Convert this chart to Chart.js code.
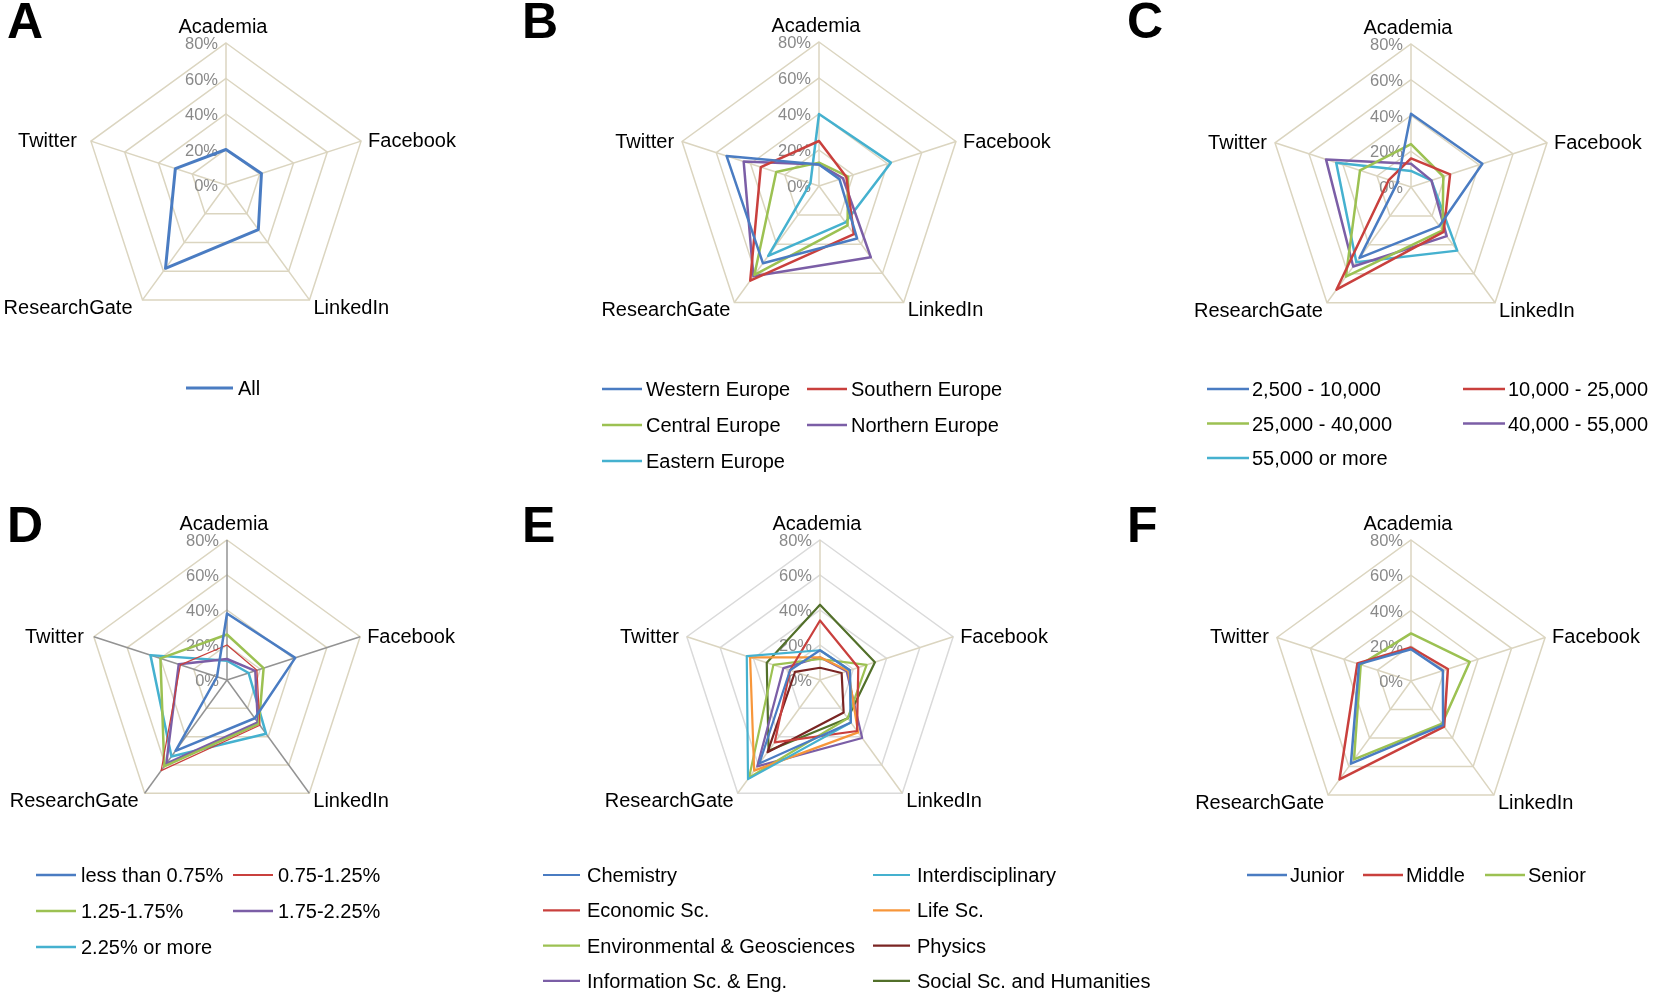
<!DOCTYPE html>
<html>
<head>
<meta charset="utf-8">
<script src="https://cdn.jsdelivr.net/npm/chart.js@4.4.1/dist/chart.umd.min.js"></script>
<style>
html, body { margin: 0; padding: 0; background: #fff; overflow: hidden; width: 1654px; height: 993px; }
canvas { position: absolute; }
</style>
</head>
<body>
<script>
// axes and ticks
const categories = ['Academia', 'Facebook', 'LinkedIn', 'ResearchGate', 'Twitter'];
const tickValues = [0, 20, 40, 60, 80];
const tickLabels = ['0%', '20%', '40%', '60%', '80%'];

// A - all respondents
const seriesA = ['All'];
const valuesA = [
    [20, 21, 31, 58, 30]
];

// B - region
const seriesB = ['Western Europe', 'Southern Europe', 'Central Europe', 'Northern Europe', 'Eastern Europe'];
const valuesB = [
    [12, 12, 36, 53, 54],
    [25, 16, 33, 65, 34],
    [13, 17, 27, 61, 25],
    [12, 14, 49, 62, 44],
    [40, 42, 25, 48, 5]
];

// C - income
const seriesC = ['2,500 - 10,000', '10,000 - 25,000', '25,000 - 40,000', '40,000 - 55,000', '55,000 or more'];
const valuesC = [
    [41, 42, 27, 49, 8],
    [16, 23, 31, 71, 13],
    [24, 19, 30, 62, 30],
    [13, 12, 34, 55, 50],
    [9, 12, 44, 52, 44]
];

// D - share
const seriesD = ['less than 0.75%', '0.75-1.25%', '1.25-1.75%', '1.75-2.25%', '2.25% or more'];
const valuesD = [
    [38, 41, 27, 50, 6],
    [20, 18, 32, 64, 28],
    [26, 22, 31, 61, 40],
    [12, 17, 30, 59, 29],
    [11, 13, 38, 54, 46]
];

// E - discipline
const seriesE = ['Chemistry', 'Interdisciplinary', 'Economic Sc.', 'Life Sc.', 'Environmental & Geosciences', 'Physics', 'Information Sc. & Eng.', 'Social Sc. and Humanities'];
const valuesE = [
    [17, 18, 30, 59, 18],
    [17, 18, 30, 70, 44],
    [34, 23, 36, 44, 18],
    [13, 17, 37, 64, 42],
    [12, 28, 27, 69, 28],
    [7, 13, 23, 51, 15],
    [13, 16, 41, 61, 22],
    [43, 33, 27, 50, 32]
];

// F - career stage
const seriesF = ['Junior', 'Middle', 'Senior'];
const valuesF = [
    [18, 19, 31, 58, 31],
    [19, 22, 32, 69, 32],
    [27, 35, 30, 55, 30]
];

// colours
const BLUE = '#4a7cc2', RED = '#c9403d', GREEN = '#9cc152', PURPLE = '#7b5ea6',
      CYAN = '#45b1cf', ORANGE = '#f7963a', MAROON = '#7a2523', DKGREEN = '#52702a';
const BEIGE = '#dbd5c0', GREY = '#939393', LTGREY = '#dadada';

// placement of labels around each vertex
const labelPos = [
    { align: 'center', dx: -3, dy: -10 },
    { align: 'left', dx: 7, dy: 6 },
    { align: 'left', dx: 4, dy: 14 },
    { align: 'right', dx: -4, dy: 14 },
    { align: 'right', dx: -8, dy: 6 }
];

const panels = [
    { letter: 'A', names: seriesA, values: valuesA, colors: [BLUE], widths: [3],
      box: [0, 0, 560, 490], cx: 226, cy: 185, r: 142, leftShift: -6,
      grid: BEIGE, angle: BEIGE,
      legend: { xs: [186], y0: 388, rowH: 36, lineLen: 47, gap: 5 } },
    { letter: 'B', names: seriesB, values: valuesB, colors: [BLUE, RED, GREEN, PURPLE, CYAN], widths: [2.5, 2.5, 2.5, 2.5, 2.5],
      box: [515, 0, 590, 490], cx: 819, cy: 186, r: 144, leftShift: 0,
      grid: BEIGE, angle: BEIGE,
      legend: { xs: [602, 807], y0: 389, rowH: 36, lineLen: 40, gap: 4 } },
    { letter: 'C', names: seriesC, values: valuesC, colors: [BLUE, RED, GREEN, PURPLE, CYAN], widths: [2.5, 2.5, 2.5, 2.5, 2.5],
      box: [1105, 0, 549, 490], cx: 1411, cy: 187, r: 143, leftShift: 0,
      grid: BEIGE, angle: BEIGE,
      legend: { xs: [1207, 1463], y0: 389, rowH: 34.5, lineLen: 42, gap: 3 } },
    { letter: 'D', names: seriesD, values: valuesD, colors: [BLUE, RED, GREEN, PURPLE, CYAN], widths: [2.5, 1.2, 2.5, 2.5, 2.5],
      box: [0, 490, 560, 503], cx: 227, cy: 680, r: 140, leftShift: -2,
      grid: BEIGE, angle: GREY,
      legend: { xs: [36, 233], y0: 875, rowH: 36, lineLen: 40, gap: 5 } },
    { letter: 'E', names: seriesE, values: valuesE, colors: [BLUE, CYAN, RED, ORANGE, GREEN, MAROON, PURPLE, DKGREEN], widths: [2.2, 2.2, 2.2, 2.2, 2.2, 2.2, 2.2, 2.2],
      box: [515, 490, 665, 503], cx: 820, cy: 680, r: 140, leftShift: 0,
      grid: LTGREY, angle: BEIGE,
      legend: { xs: [543, 873], y0: 875, rowH: 35.3, lineLen: 37, gap: 7 } },
    { letter: 'F', names: seriesF, values: valuesF, colors: [BLUE, RED, GREEN], widths: [2.5, 2.5, 2.5],
      box: [1105, 490, 549, 503], cx: 1411, cy: 681, r: 141, leftShift: 0,
      grid: BEIGE, angle: BEIGE,
      legend: { xs: [1247, 1363, 1485], y0: 875, rowH: 36, lineLen: 40, gap: 3 } }
];

function drawText(ctx, text, x, y, align) {
    ctx.textAlign = align;
    ctx.textBaseline = 'alphabetic';
    ctx.fillText(text, x, y);
}

// Vẽ nhãn, tick và chú thích
const panelText = {
    id: 'panelText',
    beforeDatasetsDraw(chart, args, o) {
        const scale = chart.scales.r;
        const ctx = chart.ctx;
        ctx.save();
        ctx.fillStyle = '#898989';
        ctx.font = '16.5px "Liberation Sans", Arial, sans-serif';
        tickValues.forEach((v, i) => {
            const d = scale.getDistanceFromCenterForValue(v);
            drawText(ctx, tickLabels[i], scale.xCenter - 8, scale.yCenter - d + 6, 'right');
        });
        ctx.restore();
    },
    afterDraw(chart, args, o) {
        const p = o.panel;
        const scale = chart.scales.r;
        const ctx = chart.ctx;
        const ox = p.box[0], oy = p.box[1];
        ctx.save();
        ctx.fillStyle = '#000';
        ctx.font = '20px "Liberation Sans", Arial, sans-serif';
        categories.forEach((c, i) => {
            const pt = scale.getPointPosition(i, scale.drawingArea);
            const lp = labelPos[i];
            const shift = lp.align === 'right' ? p.leftShift : 0;
            drawText(ctx, c, pt.x + lp.dx + shift, pt.y + lp.dy, lp.align);
        });

        // chú thích
        const lg = p.legend;
        const cols = lg.xs.length;
        p.names.forEach((name, i) => {
            const x = lg.xs[i % cols] - ox;
            const y = lg.y0 + Math.floor(i / cols) * lg.rowH - oy;
            ctx.strokeStyle = p.colors[i];
            ctx.lineWidth = Math.max(p.widths[i], 2.2);
            ctx.beginPath();
            ctx.moveTo(x, y);
            ctx.lineTo(x + lg.lineLen, y);
            ctx.stroke();
            drawText(ctx, name, x + lg.lineLen + lg.gap, y + 7, 'left');
        });

        // chữ cái của panel
        ctx.font = 'bold 50px "Liberation Sans", Arial, sans-serif';
        const lx = p.letter === 'A' || p.letter === 'D' ? 7 : (p.letter === 'B' || p.letter === 'E' ? 522 : 1127);
        const ly = oy + (oy === 0 ? 38 : 52);
        drawText(ctx, p.letter, lx - ox, ly - oy, 'left');
        ctx.restore();
    }
};

panels.forEach(p => {
    const [ox, oy, w, h] = p.box;
    const canvas = document.createElement('canvas');
    canvas.width = w;
    canvas.height = h;
    canvas.style.left = ox + 'px';
    canvas.style.top = oy + 'px';
    canvas.style.width = w + 'px';
    canvas.style.height = h + 'px';
    document.body.appendChild(canvas);

    const padL = p.cx - ox - p.r;
    const padR = ox + w - p.cx - p.r;
    const padT = p.cy - oy - p.r;
    const padB = oy + h - p.cy - p.r;

    new Chart(canvas.getContext('2d'), {
        type: 'radar',
        data: {
            labels: categories,
            datasets: p.names.map((name, i) => ({
                label: name,
                data: p.values[i],
                borderColor: p.colors[i],
                backgroundColor: 'transparent',
                borderWidth: p.widths[i],
                borderJoinStyle: 'round',
                pointRadius: 0,
                pointHoverRadius: 0,
                tension: 0,
                fill: false
            }))
        },
        options: {
            responsive: false,
            animation: false,
            devicePixelRatio: 1,
            layout: { padding: { left: padL, right: padR, top: padT, bottom: padB } },
            plugins: {
                legend: { display: false },
                tooltip: { enabled: false },
                panelText: { panel: p }
            },
            scales: {
                r: {
                    min: 0,
                    max: 80,
                    ticks: { display: false, stepSize: 20 },
                    pointLabels: { display: false },
                    grid: { color: p.grid, lineWidth: 1.5, circular: false },
                    angleLines: { color: p.angle, lineWidth: 1.5 }
                }
            }
        },
        plugins: [panelText]
    });
});
</script>
</body>
</html>
